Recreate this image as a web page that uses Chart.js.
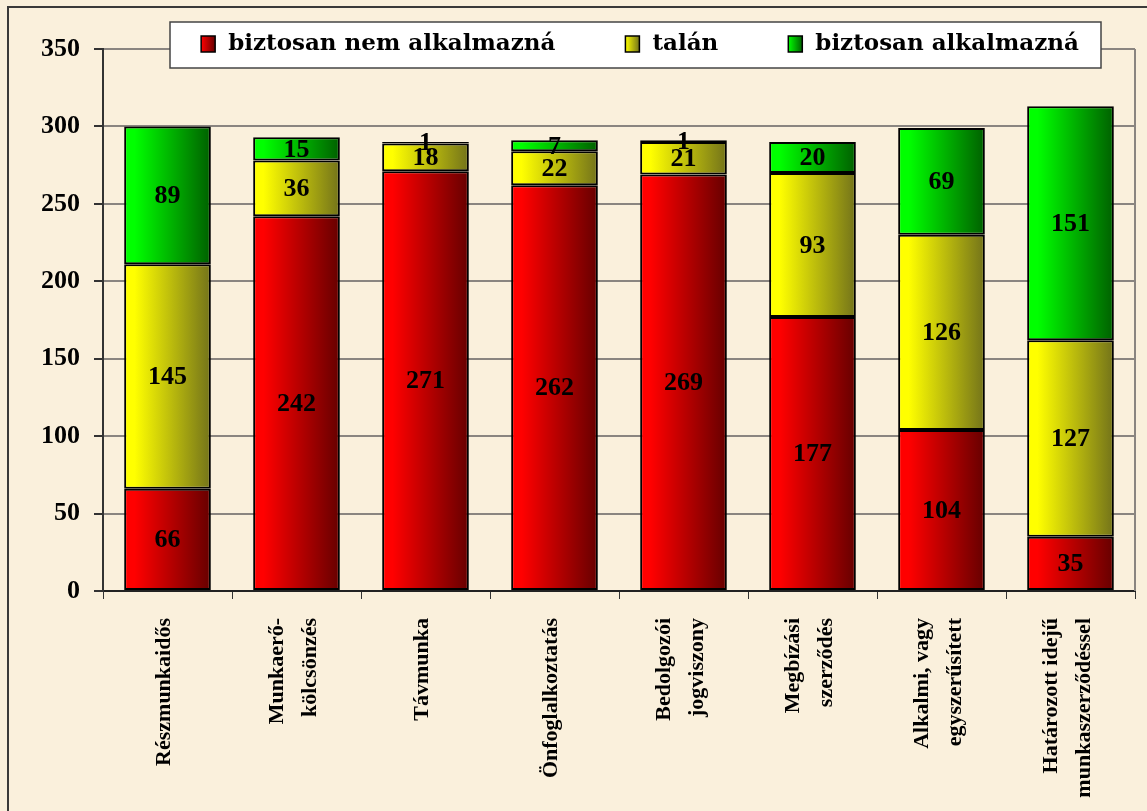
<!DOCTYPE html>
<html lang="hu">
<head>
<meta charset="UTF-8">
<title>Foglalkoztatási formák</title>
<script src="https://cdn.jsdelivr.net/npm/chart.js"></script>
<style>
    body { margin: 0; background: #faf0dc; }
    canvas { display: block; }
</style>
</head>
<body>
<canvas id="myChart" width="1147" height="811"></canvas>

<script>
    // adatok
    const categories = [
        ['Részmunkaidős'],
        ['Munkaerő-', 'kölcsönzés'],
        ['Távmunka'],
        ['Önfoglalkoztatás'],
        ['Bedolgozói', 'jogviszony'],
        ['Megbízási', 'szerződés'],
        ['Alkalmi, vagy', 'egyszerűsített'],
        ['Határozott idejű', 'munkaszerződéssel']
    ];
    const seriesNames = ['biztosan nem alkalmazná', 'talán', 'biztosan alkalmazná'];
    const nemAlkalmazna = [66, 242, 271, 262, 269, 177, 104, 35];
    const talan = [145, 36, 18, 22, 21, 93, 126, 127];
    const alkalmazna = [89, 15, 1, 7, 1, 20, 69, 151];
    const yTicks = [0, 50, 100, 150, 200, 250, 300, 350];

    const SERIF = '"Liberation Serif", "Times New Roman", serif';
    const BAR_FRACTION = 0.8 * 0.84;

    // vízszintes színátmenet oszloponként
    function barFill(light, dark) {
        return (c) => {
            const chart = c.chart;
            if (c.type !== 'data' || !chart.chartArea) return light;
            const x = chart.scales.x;
            const cx = x.getPixelForValue(c.dataIndex);
            const half = x.width / categories.length * BAR_FRACTION / 2;
            const g = chart.ctx.createLinearGradient(cx - half, 0, cx + half, 0);
            g.addColorStop(0, light);
            g.addColorStop(0.12, light);
            g.addColorStop(1, dark);
            return g;
        };
    }

    const colors = [
        ['#ff0000', '#660000'],
        ['#ffff00', '#73731a'],
        ['#00ff00', '#006000']
    ];

    const background = {
        id: 'background',
        beforeDraw(chart) {
            const ctx = chart.ctx;
            ctx.save();
            ctx.fillStyle = '#faf0dc';
            ctx.fillRect(0, 0, chart.width, chart.height);
            ctx.strokeStyle = '#3a3a3a';
            ctx.lineWidth = 2;
            ctx.strokeRect(8, 7, chart.width + 20, chart.height + 20);
            ctx.restore();
        },
        beforeDatasetsDraw(chart) {
            const a = chart.chartArea;
            const ctx = chart.ctx;
            ctx.save();
            ctx.strokeStyle = '#8a8580';
            ctx.lineWidth = 2;
            ctx.beginPath();
            ctx.moveTo(a.right, a.top);
            ctx.lineTo(a.right, a.bottom);
            ctx.stroke();
            ctx.restore();
        }
    };

    // értékek az oszlopszakaszok közepén
    const valueLabels = {
        id: 'valueLabels',
        afterDatasetsDraw(chart) {
            const ctx = chart.ctx;
            ctx.save();
            ctx.font = 'bold 26px ' + SERIF;
            ctx.fillStyle = '#000';
            ctx.textAlign = 'center';
            ctx.textBaseline = 'middle';
            chart.data.datasets.forEach((ds, i) => {
                chart.getDatasetMeta(i).data.forEach((bar, j) => {
                    ctx.fillText(ds.data[j], bar.x, (bar.y + bar.base) / 2 + 1);
                });
            });
            ctx.restore();
        }
    };

    // függőleges kategóriafeliratok
    const categoryLabels = {
        id: 'categoryLabels',
        afterDraw(chart) {
            const ctx = chart.ctx;
            const x = chart.scales.x;
            const top = chart.chartArea.bottom + 27;
            ctx.save();
            ctx.font = 'bold 22px ' + SERIF;
            ctx.fillStyle = '#000';
            ctx.textAlign = 'right';
            ctx.textBaseline = 'middle';
            categories.forEach((lines, i) => {
                const cx = x.getPixelForValue(i) - 3;
                lines.forEach((line, k) => {
                    const lx = cx + (k - (lines.length - 1) / 2) * 33;
                    ctx.save();
                    ctx.translate(lx, top);
                    ctx.rotate(-Math.PI / 2);
                    ctx.fillText(line, 0, 0);
                    ctx.restore();
                });
            });
            ctx.restore();
        }
    };

    // jelmagyarázat fehér keretben
    const legendBox = {
        id: 'legendBox',
        afterDraw(chart) {
            const ctx = chart.ctx;
            ctx.save();
            ctx.fillStyle = '#fff';
            ctx.fillRect(170, 22, 931, 46);
            ctx.strokeStyle = '#444';
            ctx.lineWidth = 1.5;
            ctx.strokeRect(170, 22, 931, 46);

            ctx.font = 'bold 23px "DejaVu Serif", serif';
            ctx.textBaseline = 'middle';
            const gap = 70, sw = 14, tg = 13;
            const widths = chart.data.datasets.map(ds => ctx.measureText(ds.label).width);
            const total = widths.reduce((s, w) => s + sw + tg + w, 0) + gap * (widths.length - 1);
            let xPos = 640 - total / 2;
            chart.data.datasets.forEach((ds, i) => {
                const g = ctx.createLinearGradient(xPos, 0, xPos + sw, 0);
                g.addColorStop(0, colors[i][0]);
                g.addColorStop(1, colors[i][1]);
                ctx.fillStyle = g;
                ctx.fillRect(xPos, 36, sw, 16);
                ctx.strokeStyle = '#000';
                ctx.lineWidth = 1.5;
                ctx.strokeRect(xPos, 36, sw, 16);
                ctx.fillStyle = '#000';
                ctx.fillText(ds.label, xPos + sw + tg, 44);
                xPos += sw + tg + widths[i] + gap;
            });
            ctx.restore();
        }
    };

    const ctx = document.getElementById('myChart');

    new Chart(ctx, {
        type: 'bar',
        data: {
            labels: categories,
            datasets: [nemAlkalmazna, talan, alkalmazna].map((values, i) => ({
                label: seriesNames[i],
                data: values,
                backgroundColor: barFill(colors[i][0], colors[i][1]),
                borderColor: '#000',
                borderWidth: 2,
                borderSkipped: false,
                categoryPercentage: 0.8,
                barPercentage: 0.84
            }))
        },
        options: {
            responsive: false,
            animation: false,
            layout: {
                padding: { left: 27, right: 12, top: 49, bottom: 212 }
            },
            plugins: {
                legend: { display: false },
                tooltip: { enabled: false }
            },
            scales: {
                x: {
                    stacked: true,
                    ticks: { display: false },
                    grid: {
                        drawOnChartArea: false,
                        drawTicks: true,
                        tickLength: 8,
                        tickColor: '#333',
                        offset: true
                    },
                    border: { color: '#222', width: 2 }
                },
                y: {
                    stacked: true,
                    min: 0,
                    max: 350,
                    afterBuildTicks: (scale) => {
                        scale.ticks = yTicks.map(v => ({ value: v }));
                    },
                    ticks: {
                        color: '#000',
                        padding: 14,
                        font: { family: SERIF, size: 26, weight: 'bold' }
                    },
                    grid: {
                        color: '#8a8580',
                        lineWidth: 2,
                        tickLength: 9,
                        tickColor: '#333'
                    },
                    border: { color: '#333', width: 2 }
                }
            }
        },
        plugins: [background, valueLabels, categoryLabels, legendBox]
    });
</script>
</body>
</html>
